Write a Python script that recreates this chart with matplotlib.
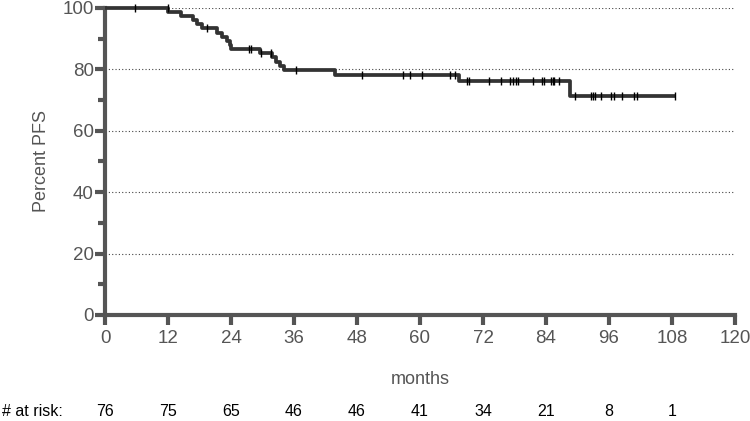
import numpy as np
import matplotlib
matplotlib.use("Agg")
import matplotlib.pyplot as plt
from matplotlib.ticker import MultipleLocator
import matplotlib.transforms as mtransforms

plt.rcParams['font.family'] = ['Liberation Sans', 'DejaVu Sans']

# Kaplan-Meier step data (time in months, survival %)
step_times = [0, 12.06, 14.4, 16.8, 17.5, 18.4, 21.3, 22.2, 23.2, 23.8, 24.0,
              29.5, 31.9, 32.6, 33.3, 34.0, 43.8, 67.5, 88.6]
step_surv = [100, 98.67, 97.33, 96.0, 94.67, 93.33, 92.0, 90.67, 89.33, 88.0, 86.67,
             85.29, 83.9, 82.5, 81.1, 79.8, 78.3, 76.1, 71.4]
end_time = 108.6

censor_times = [5.8, 12.0, 19.4, 27.4, 27.8, 29.8, 31.6, 36.4, 48.9, 56.7, 58.1,
                60.3, 65.7, 66.7, 68.9, 69.4, 73.2, 75.4, 77.1, 77.7, 78.2, 78.7,
                81.6, 83.2, 83.7, 84.9, 85.3, 85.6, 86.5, 89.5, 92.5, 92.9, 93.3,
                94.4, 96.3, 97.0, 98.4, 100.8, 101.3, 108.6]

risk_times = [0, 12, 24, 36, 48, 60, 72, 84, 96, 108]
at_risk = [76, 75, 65, 46, 46, 41, 34, 21, 8, 1]

xticks = list(range(0, 121, 12))
yticks = [0, 20, 40, 60, 80, 100]

axis_col = '#555555'
line_col = '#333333'

fig = plt.figure(figsize=(7.5, 4.21), dpi=100)
ax = fig.add_axes([0.14, 0.2518, 0.84, 0.7292])

# dotted grid
for y in yticks[1:]:
    ax.axhline(y, color='#444444', lw=0.8, ls=(0, (1, 2)), zorder=1)

# curve
xs = list(step_times) + [end_time]
ys = list(step_surv) + [step_surv[-1]]
ax.plot(xs, ys, drawstyle='steps-post', color=line_col, lw=2.7,
        solid_capstyle='butt', zorder=3, clip_on=False)

# censor marks
st = np.array(step_times)
sv = np.array(step_surv)
ct = np.array(censor_times)
cy = sv[np.searchsorted(st, ct, side='right') - 1]
ax.plot(ct, cy, ls='none', marker='|', ms=6, mew=1.0, color='black',
        zorder=4, clip_on=False)

ax.set_xlim(0, 120)
ax.set_ylim(0, 100)
ax.set_xticks(xticks)
ax.set_yticks(yticks)
ax.yaxis.set_minor_locator(MultipleLocator(10))

for s in ['top', 'right']:
    ax.spines[s].set_visible(False)
for s in ['left', 'bottom']:
    ax.spines[s].set_color(axis_col)
    ax.spines[s].set_linewidth(3)

ax.tick_params(axis='both', which='major', length=7, width=3, color=axis_col,
               labelcolor=axis_col, labelsize=13.5)
ax.tick_params(axis='y', which='major', pad=1)
ax.tick_params(axis='x', which='major', pad=4)
ax.tick_params(axis='y', which='minor', length=5, width=3, color=axis_col)
ax.tick_params(axis='x', which='minor', length=0)

ax.set_ylabel('Percent PFS', color=axis_col, fontsize=13, labelpad=9)
ax.set_xlabel('months', color=axis_col, fontsize=13, labelpad=17)

# at risk table
row_y = 0.004
fig.text(0.003, row_y, '# at risk:', fontsize=11.5, color='black', ha='left', va='bottom')
blend = mtransforms.blended_transform_factory(ax.transData, fig.transFigure)
for t, n in zip(risk_times, at_risk):
    ax.text(t, row_y, str(n), transform=blend, fontsize=11.5, color='black',
            ha='center', va='bottom')

fig.savefig('out.png', dpi=100)
